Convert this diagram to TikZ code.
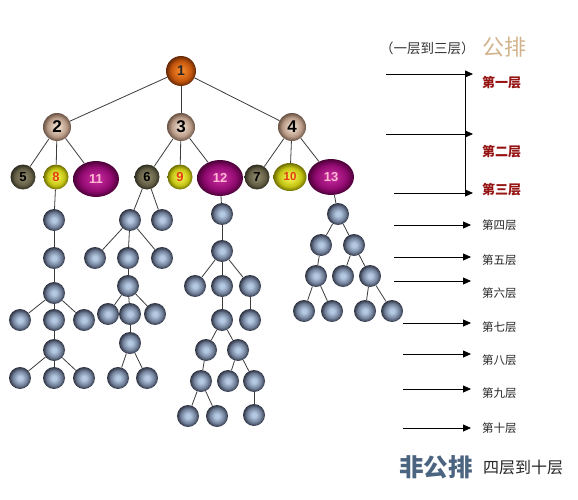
\documentclass[tikz,border=0pt]{standalone}
\usepackage{fontspec}
\setmainfont{Liberation Sans}
\newfontfamily\cjk{Noto Sans CJK SC}
\usetikzlibrary{shapes.geometric,arrows.meta}
\definecolor{gIn}{RGB}{180,200,226}\definecolor{gMid}{RGB}{112,127,152}\definecolor{gOut}{RGB}{45,50,65}
\definecolor{oIn}{RGB}{238,128,38}\definecolor{oMid}{RGB}{195,85,12}\definecolor{oOut}{RGB}{100,40,5}
\definecolor{tIn}{RGB}{232,212,196}\definecolor{tMid}{RGB}{185,155,135}\definecolor{tOut}{RGB}{105,82,68}
\definecolor{vIn}{RGB}{135,130,100}\definecolor{vMid}{RGB}{98,93,68}\definecolor{vOut}{RGB}{45,43,30}
\definecolor{yIn}{RGB}{236,236,70}\definecolor{yMid}{RGB}{195,195,20}\definecolor{yOut}{RGB}{110,110,0}
\definecolor{mIn}{RGB}{188,35,148}\definecolor{mMid}{RGB}{145,10,112}\definecolor{mOut}{RGB}{75,0,55}
\pgfdeclareradialshading{shGray}{\pgfpoint{0bp}{0bp}}{color(0bp)=(gIn); color(5bp)=(gIn); color(17bp)=(gMid); color(25bp)=(gOut); color(50bp)=(gOut)}
\pgfdeclareradialshading{shOrange}{\pgfpoint{0bp}{0bp}}{color(0bp)=(oIn); color(5bp)=(oIn); color(17bp)=(oMid); color(25bp)=(oOut); color(50bp)=(oOut)}
\pgfdeclareradialshading{shTan}{\pgfpoint{0bp}{0bp}}{color(0bp)=(tIn); color(5bp)=(tIn); color(17bp)=(tMid); color(25bp)=(tOut); color(50bp)=(tOut)}
\pgfdeclareradialshading{shOlive}{\pgfpoint{0bp}{0bp}}{color(0bp)=(vIn); color(5bp)=(vIn); color(17bp)=(vMid); color(25bp)=(vOut); color(50bp)=(vOut)}
\pgfdeclareradialshading{shYellow}{\pgfpoint{0bp}{0bp}}{color(0bp)=(yIn); color(5bp)=(yIn); color(17bp)=(yMid); color(25bp)=(yOut); color(50bp)=(yOut)}
\pgfdeclareradialshading{shMag}{\pgfpoint{0bp}{0bp}}{color(0bp)=(mIn); color(5bp)=(mIn); color(17bp)=(mMid); color(25bp)=(mOut); color(50bp)=(mOut)}
\definecolor{cRedTxt}{RGB}{150,20,20}
\definecolor{cNumRed}{RGB}{225,60,20}
\definecolor{cPink}{RGB}{255,185,210}
\definecolor{cBeige}{RGB}{210,180,140}
\definecolor{cSteel}{RGB}{75,100,128}
\definecolor{cEdge}{RGB}{60,60,60}
\begin{document}
\begin{tikzpicture}[x=1pt,y=-1pt,
  num/.style={inner sep=0pt,font=\bfseries\fontsize{13}{13}\selectfont},
  top/.style={num,circle,minimum size=30pt,shading=shOrange,text=black!85,font=\bfseries\fontsize{14}{14}\selectfont},
  tan/.style={num,circle,minimum size=28pt,shading=shTan,text=black,font=\bfseries\fontsize{17}{17}\selectfont},
  olive/.style={num,circle,minimum size=25pt,shading=shOlive,text=black},
  yel/.style={num,circle,minimum size=25pt,shading=shYellow,text=cNumRed},
  yelw/.style={num,ellipse,minimum width=33pt,minimum height=28pt,shading=shYellow,text=cNumRed,font=\bfseries\fontsize{11.5}{11.5}\selectfont},
  mag/.style={num,ellipse,minimum width=46pt,minimum height=36pt,shading=shMag,text=cPink},
  gb/.style={circle,inner sep=0pt,minimum size=22pt,shading=shGray},
  edge/.style={draw=cEdge,line width=0.8pt},
  arr/.style={draw=black,line width=0.8pt,-{Triangle[length=8pt,width=7pt]}},
  lvl/.style={anchor=west,inner sep=0pt,font=\cjk\fontsize{11.5}{11.5}\selectfont,text=black!85},
  lvlt/.style={anchor=west,inner sep=0pt,font=\cjk\bfseries\fontsize{13}{13}\selectfont,text=cRedTxt}
]
\path[use as bounding box,fill=white] (0,0) rectangle (578,500);

% top levels
\node[top] (n1) at (181,71) {1};
\node[tan] (n2) at (57,127) {2};
\node[tan] (n3) at (181,127) {3};
\node[tan] (n4) at (292,127) {4};
\node[olive] (n5) at (23,177) {5};
\node[yel] (n8) at (56,177) {8};
\node[mag] (n11) at (96,179) {11};
\node[olive] (n6) at (147,177) {6};
\node[yel] (n9) at (180,177) {9};
\node[mag] (n12) at (220,178) {12};
\node[olive] (n7) at (257,177) {7};
\node[yelw] (n10) at (290,177) {10};
\node[mag] (n13) at (331,177) {13};

\foreach \a/\b in {n1/n2,n1/n3,n1/n4,n2/n5,n2/n8,n2/n11,n3/n6,n3/n9,n3/n12,n4/n7,n4/n10,n4/n13}
  \draw[edge] (\a) -- (\b);

% tree under 8
\node[gb] (g1) at (54,220) {};
\node[gb] (g2) at (54,258) {};
\node[gb] (g3) at (54,293) {};
\node[gb] (g4a) at (20,320) {};
\node[gb] (g4b) at (54,320) {};
\node[gb] (g4c) at (84,320) {};
\node[gb] (g5) at (54,350) {};
\node[gb] (g6a) at (20,378) {};
\node[gb] (g6b) at (54,378) {};
\node[gb] (g6c) at (84,378) {};
\foreach \a/\b in {n8/g1,g1/g2,g2/g3,g3/g4a,g3/g4b,g3/g4c,g4b/g5,g5/g6a,g5/g6b,g5/g6c}
  \draw[edge] (\a) -- (\b);

% tree under 6
\node[gb] (h1) at (130,220) {};
\node[gb] (h2) at (162,220) {};
\node[gb] (h3) at (95,258) {};
\node[gb] (h4) at (128,258) {};
\node[gb] (h5) at (162,258) {};
\node[gb] (h6) at (128,286) {};
\node[gb] (h7) at (108,314) {};
\node[gb] (h9) at (155,314) {};
\node[gb] (h8) at (130,314) {};
\node[gb] (h10) at (130,343) {};
\node[gb] (h11) at (118,378) {};
\node[gb] (h12) at (147,378) {};
\foreach \a/\b in {n6/h1,n6/h2,h1/h3,h1/h4,h1/h5,h4/h6,h6/h7,h6/h8,h6/h9,h8/h10,h10/h11,h10/h12}
  \draw[edge] (\a) -- (\b);

% tree under 12
\node[gb] (k1) at (222,214) {};
\node[gb] (k2) at (222,251) {};
\node[gb] (k3) at (195,286) {};
\node[gb] (k4) at (222,286) {};
\node[gb] (k5) at (250,286) {};
\node[gb] (k6) at (222,320) {};
\node[gb] (k7) at (250,320) {};
\node[gb] (k8) at (206,350) {};
\node[gb] (k9) at (238,350) {};
\node[gb] (k10) at (201,381) {};
\node[gb] (k11) at (228,381) {};
\node[gb] (k12) at (254,381) {};
\node[gb] (k13) at (188,416) {};
\node[gb] (k14) at (217,416) {};
\node[gb] (k15) at (254,415) {};
\foreach \a/\b in {n12/k1,k1/k2,k2/k3,k2/k4,k2/k5,k4/k6,k5/k7,k6/k8,k6/k9,k8/k10,k9/k11,k9/k12,k10/k13,k10/k14,k12/k15}
  \draw[edge] (\a) -- (\b);

% tree under 13
\node[gb] (m1) at (338,214) {};
\node[gb] (m2) at (321,245) {};
\node[gb] (m3) at (354,245) {};
\node[gb] (m4) at (316,276) {};
\node[gb] (m5) at (343,276) {};
\node[gb] (m6) at (370,276) {};
\node[gb] (m7) at (304,311) {};
\node[gb] (m8) at (332,311) {};
\node[gb] (m9) at (365,311) {};
\node[gb] (m10) at (392,311) {};
\foreach \a/\b in {n13/m1,m1/m2,m1/m3,m2/m4,m3/m5,m3/m6,m4/m7,m4/m8,m6/m9,m6/m10}
  \draw[edge] (\a) -- (\b);

% header
\node[anchor=west,inner sep=0pt,font=\cjk\fontsize{13.5}{13.5}\selectfont,text=black!80] (hdr) at (380,48) {（一层到三层）};
\node[anchor=west,inner sep=0pt,font=\cjk\fontsize{22}{22}\selectfont,text=cBeige] (gp) at (482,47) {公排};

% top bracket
\coordinate (a1s) at (386,74); \coordinate (a1e) at (473,74);
\coordinate (a2s) at (386,134); \coordinate (a2e) at (473,134);
\coordinate (a3s) at (394,193); \coordinate (a3e) at (473,193);
\coordinate (v1) at (465,74); \coordinate (v3) at (465,193);
\draw[draw=black,line width=0.8pt] (v1) -- (v3);
\draw[arr] (a1s) -- (a1e);
\draw[arr] (a2s) -- (a2e);
\draw[arr] (a3s) -- (a3e);
\node[lvlt] (l1) at (482,83) {第一层};
\node[lvlt] (l2) at (482,152) {第二层};
\node[lvlt] (l3) at (482,190) {第三层};

% lower arrows
\coordinate (b4s) at (394,225); \coordinate (b4e) at (471,225);
\coordinate (b5s) at (394,257); \coordinate (b5e) at (471,257);
\coordinate (b6s) at (394,281); \coordinate (b6e) at (471,281);
\coordinate (b7s) at (403,323); \coordinate (b7e) at (471,323);
\coordinate (b8s) at (403,354); \coordinate (b8e) at (471,354);
\coordinate (b9s) at (403,389); \coordinate (b9e) at (471,389);
\coordinate (b10s) at (403,428); \coordinate (b10e) at (471,428);
\foreach \i in {4,...,10} \draw[arr] (b\i s) -- (b\i e);
\node[lvl] (l4) at (482,225) {第四层};
\node[lvl] (l5) at (482,260) {第五层};
\node[lvl] (l6) at (482,293) {第六层};
\node[lvl] (l7) at (482,327) {第七层};
\node[lvl] (l8) at (482,360) {第八层};
\node[lvl] (l9) at (482,393) {第九层};
\node[lvl] (l10) at (482,428) {第十层};

% footer
\node[anchor=west,inner sep=0pt,font=\cjk\bfseries\fontsize{24.5}{24.5}\selectfont,text=cSteel] (fgp) at (399,467) {非公排};
\node[anchor=west,inner sep=0pt,font=\cjk\fontsize{16}{16}\selectfont,text=black!85] (ftx) at (483,467) {四层到十层};
\end{tikzpicture}
\end{document}
